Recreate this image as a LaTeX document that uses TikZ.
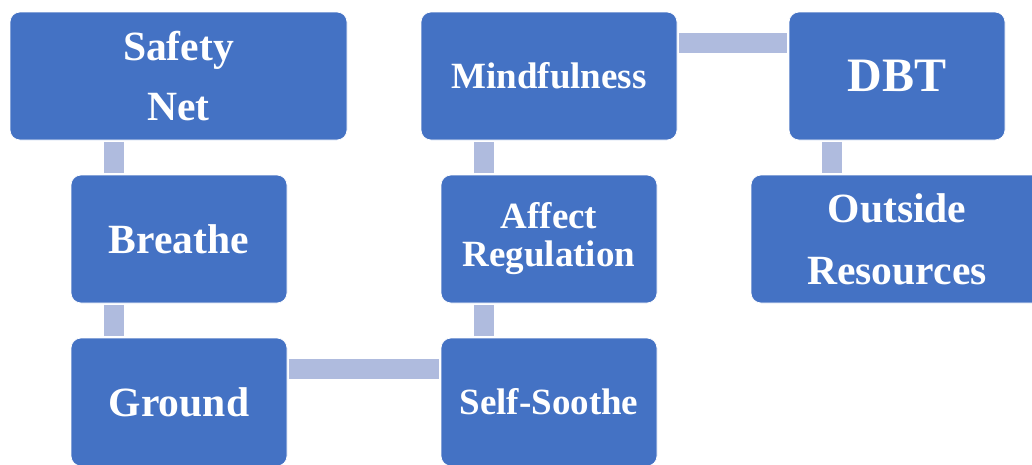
\documentclass[tikz,border=0pt]{standalone}
\usepackage{fontspec}
\setmainfont{Liberation Serif}
\usetikzlibrary{calc,positioning}
\definecolor{boxblue}{HTML}{4472C4}
\definecolor{linkblue}{HTML}{AFBBDE}
\tikzset{
  stage/.style={draw=white,line width=.75pt,fill=boxblue,rounded corners=10pt,
    minimum height=128pt,inner sep=0pt,text=white,align=center},
  bigtext/.style={font=\fontsize{41.6pt}{60pt}\selectfont\bfseries},
  midtext/.style={font=\fontsize{37pt}{38pt}\selectfont\bfseries},
  hugetext/.style={font=\fontsize{48pt}{56pt}\selectfont\bfseries},
  link/.style={draw=linkblue,line width=20pt,shorten <=1.5pt,shorten >=1.5pt}}

\begin{document}
\begin{tikzpicture}[x=1pt,y=-1pt]
\useasboundingbox (0,0) rectangle (1032,464);
\clip (0,0) rectangle (1032,464);
% left column
\node[stage,bigtext,minimum width=337pt] (safety) at (178.5,76) {Safety\\Net};
\node[stage,bigtext,minimum width=216pt] (breathe) at (179,239) {Breathe};
\node[stage,bigtext,minimum width=216pt] (ground) at (179,402) {Ground};
% middle column
\node[stage,midtext,minimum width=216pt] (soothe) at (549,402) {Self-Soothe};
\node[stage,midtext,minimum width=216pt] (affect) at (549,239) {Affect\\Regulation};
\node[stage,midtext,minimum width=256pt] (mindful) at (549,76) {Mindfulness};
% right column
\node[stage,hugetext,minimum width=216pt] (dbt) at (897,76) {DBT};
\node[stage,font=\fontsize{41.6pt}{62pt}\selectfont\bfseries,minimum width=292pt] (outside) at (897,239) {Outside\\Resources};
% connectors
\coordinate (sb) at ($(breathe.north west)!.2!(breathe.north east)$);
\draw[link] (sb |- safety.south) -- (sb);
\coordinate (bg) at ($(ground.north west)!.2!(ground.north east)$);
\draw[link] (bg |- breathe.south) -- (bg);
\coordinate (gs) at ($(ground.north east)!.24!(ground.south east)$);
\draw[link] (gs) -- (gs -| soothe.west);
\coordinate (sa) at ($(soothe.north west)!.2!(soothe.north east)$);
\draw[link] (sa) -- (sa |- affect.south);
\coordinate (am) at ($(affect.north west)!.2!(affect.north east)$);
\draw[link] (am) -- (am |- mindful.south);
\coordinate (md) at ($(dbt.north west)!.24!(dbt.south west)$);
\draw[link] (md -| mindful.east) -- (md);
\coordinate (do) at ($(dbt.south west)!.2!(dbt.south east)$);
\draw[link] (do) -- (do |- outside.north);
\end{tikzpicture}
\end{document}
